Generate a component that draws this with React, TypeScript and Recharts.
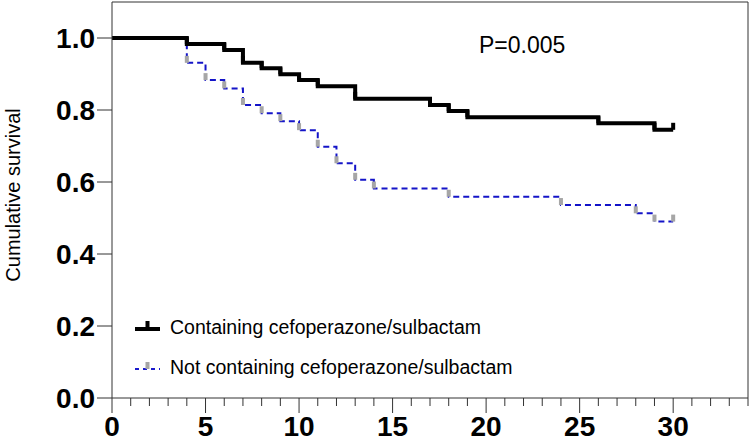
import React from 'react';
import { LineChart, Line, XAxis, YAxis, ReferenceLine } from 'recharts';

const blackTimes = [0, 4, 6, 7, 8, 9, 10, 11, 13, 17, 18, 19, 26, 29, 30];
const blackValues = [1, 0.983, 0.967, 0.931, 0.916, 0.899, 0.883, 0.866, 0.831, 0.814, 0.797, 0.78, 0.763, 0.745, 0.745];
const blueTimes = [0, 4, 5, 6, 7, 8, 9, 10, 11, 12, 13, 14, 18, 24, 28, 29, 30];
const blueValues = [1, 0.931, 0.883, 0.86, 0.814, 0.791, 0.769, 0.744, 0.698, 0.652, 0.606, 0.582, 0.559, 0.536, 0.513, 0.49, 0.49];
const xMajorTicks = [0, 5, 10, 15, 20, 25, 30];
const xAllTicks = Array.from({ length: 35 }, (_, i) => i);
const yTicks = [0, 0.2, 0.4, 0.6, 0.8, 1.0];
const seriesNames = ['Containing cefoperazone/sulbactam', 'Not containing cefoperazone/sulbactam'];
const pValueText = 'P=0.005';

const blackData = blackTimes.map((t, i) => ({ t, s: blackValues[i] }));
const blueData = blueTimes.map((t, i) => ({ t, s: blueValues[i] }));

const FONT = 'Arial, "Liberation Sans", Helvetica, sans-serif';

const makeMark = (color: string) => (props: any) => {
  const { cx, cy, index } = props;
  if (index === 0 || cx == null || cy == null) return <g key={`m-${color}-${index}`} />;
  return <rect key={`m-${color}-${index}`} x={cx - 2} y={cy - 7} width={4} height={7} fill={color} />;
};

const XTick = (props: any) => {
  const { x, y, payload } = props;
  const v = payload.value;
  const major = v % 5 === 0;
  return (
    <g>
      <line x1={x} x2={x} y1={y} y2={y + (major ? 15 : 8)} stroke="#333" strokeWidth={1} />
      {major && xMajorTicks.includes(v) ? (
        <text x={x} y={y + 38} textAnchor="middle" fontFamily={FONT} fontWeight="bold" fontSize={28} fill="#000">
          {v}
        </text>
      ) : null}
    </g>
  );
};

const LegendBlock = () => (
  <div style={{ position: 'absolute', left: 135, top: 307, fontFamily: FONT, fontSize: 19.5, color: '#000', whiteSpace: 'nowrap' }}>
    <div style={{ display: 'flex', alignItems: 'center', height: 40 }}>
      <svg width={35} height={20}>
        <line x1={0} x2={25} y1={12} y2={12} stroke="#000" strokeWidth={4} />
        <rect x={10.5} y={4} width={4} height={8} fill="#000" />
      </svg>
      <span>{seriesNames[0]}</span>
    </div>
    <div style={{ display: 'flex', alignItems: 'center', height: 40 }}>
      <svg width={35} height={20}>
        <line x1={0} x2={25} y1={12} y2={12} stroke="#1a1acc" strokeWidth={2} strokeDasharray="4 4" />
        <rect x={10.5} y={5} width={4} height={7} fill="#a6a6a6" />
      </svg>
      <span>{seriesNames[1]}</span>
    </div>
  </div>
);

export default function App() {
  return (
    <div style={{ position: 'absolute', left: 0, top: 0, width: 750, height: 446, background: '#fff' }}>
      <LineChart width={750} height={446} margin={{ top: 2, right: 2, left: 0, bottom: 0 }}>
        <XAxis
          dataKey="t"
          type="number"
          domain={[0, 34]}
          ticks={xAllTicks}
          interval={0}
          allowDataOverflow
          tickSize={0}
          tickMargin={0}
          tickLine={false}
          tick={<XTick />}
          height={48}
          axisLine={{ stroke: '#333', strokeWidth: 1 }}
        />
        <YAxis
          type="number"
          domain={[0, 1.1]}
          ticks={yTicks}
          allowDataOverflow
          width={112}
          tickSize={15}
          tickMargin={2}
          tickFormatter={(v: number) => v.toFixed(1)}
          tick={{ fontFamily: FONT, fontWeight: 'bold', fontSize: 28, fill: '#000' }}
          tickLine={{ stroke: '#333', strokeWidth: 1 }}
          axisLine={{ stroke: '#333', strokeWidth: 1 }}
          label={{
            value: 'Cumulative survival',
            angle: -90,
            position: 'center',
            dx: -43,
            dy: -5,
            style: { fontFamily: FONT, fontSize: 20, fill: '#000', textAnchor: 'middle' },
          }}
        />
        <ReferenceLine y={1.1} stroke="#333" strokeWidth={1} />
        <ReferenceLine x={34} stroke="#333" strokeWidth={1} />
        <Line
          data={blueData}
          dataKey="s"
          type="stepAfter"
          stroke="#1414c8"
          strokeWidth={2}
          strokeDasharray="6 4"
          dot={makeMark('#a6a6a6')}
          activeDot={false}
          isAnimationActive={false}
        />
        <Line
          data={blackData}
          dataKey="s"
          type="stepAfter"
          stroke="#000"
          strokeWidth={4}
          dot={makeMark('#000')}
          activeDot={false}
          isAnimationActive={false}
        />
      </LineChart>
      <div style={{ position: 'absolute', left: 479, top: 34, fontFamily: FONT, fontSize: 23, lineHeight: '23px', color: '#000' }}>
        {pValueText}
      </div>
      <LegendBlock />
    </div>
  );
}
